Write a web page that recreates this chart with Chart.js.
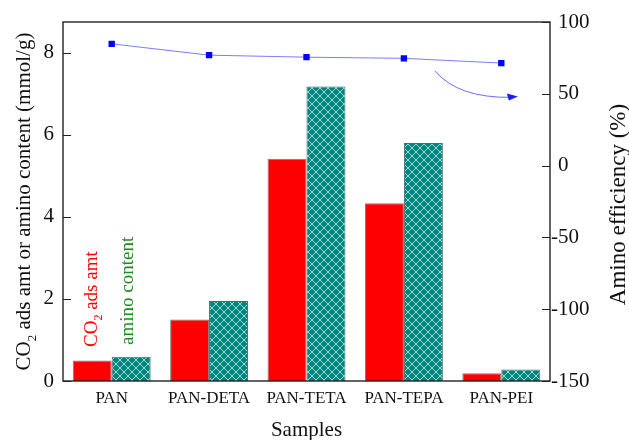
<!DOCTYPE html>
<html>
<head>
<meta charset="utf-8">
<script src="https://cdn.jsdelivr.net/npm/chart.js@4/dist/chart.umd.min.js"></script>
<style>
  html, body { margin: 0; padding: 0; background: #fff; }
  #wrap { width: 629px; height: 440px; }
</style>
</head>
<body>
<div id="wrap"><canvas id="c" width="629" height="440"></canvas></div>
<script>
// Samples and measured values
const categories = ['PAN', 'PAN-DETA', 'PAN-TETA', 'PAN-TEPA', 'PAN-PEI'];
const co2Adsorbed = [0.50, 1.50, 5.42, 4.33, 0.19];      // mmol/g
const aminoContent = [0.59, 1.95, 7.18, 5.80, 0.28];     // mmol/g
const aminoEfficiency = [84.8, 76.9, 75.5, 74.7, 71.4];  // %

// Axis tick labels
const leftTicks = [0, 2, 4, 6, 8];
const rightTicks = [-150, -100, -50, 0, 50, 100];

// Curved arrow pointing to the efficiency line (category index, % value)
const arrowStart = [3.32, 66];
const arrowBend = [3.55, 47];
const arrowEnd = [4.17, 47.5];

const SERIF = '"Liberation Serif", "DejaVu Serif", serif';

function crossHatch() {
  const c = document.createElement('canvas');
  c.width = 8; c.height = 8;
  const g = c.getContext('2d');
  g.fillStyle = '#00857f';
  g.fillRect(0, 0, 8, 8);
  g.strokeStyle = 'rgba(185,232,226,0.85)';
  g.lineWidth = 1;
  g.beginPath();
  g.moveTo(0, 0); g.lineTo(8, 8);
  g.moveTo(8, 0); g.lineTo(0, 8);
  g.stroke();
  return g.createPattern(c, 'repeat');
}

function subText(ctx, parts, x, y, size) {
  // parts: [text, isSubscript]; draws left to right along the current x axis
  let cx = x;
  for (const [t, sub] of parts) {
    ctx.font = (sub ? Math.round(size * 0.62) : size) + 'px ' + SERIF;
    ctx.fillText(t, cx, y + (sub ? size * 0.28 : 0));
    cx += ctx.measureText(t).width;
  }
  return cx - x;
}
function measureParts(ctx, parts, size) {
  let w = 0;
  for (const [t, sub] of parts) {
    ctx.font = (sub ? Math.round(size * 0.62) : size) + 'px ' + SERIF;
    w += ctx.measureText(t).width;
  }
  return w;
}

const decorations = {
  id: 'decorations',
  afterDraw(chart) {
    const ctx = chart.ctx;
    const a = chart.chartArea;
    const yL = chart.scales.y, yR = chart.scales.y1, x = chart.scales.x;
    ctx.save();

    // frame
    ctx.strokeStyle = '#222';
    ctx.lineWidth = 1.4;
    ctx.strokeRect(a.left, a.top, a.right - a.left, a.bottom - a.top);

    // inward tick marks
    ctx.lineWidth = 1.2;
    ctx.beginPath();
    leftTicks.forEach(v => {
      const py = Math.round(yL.getPixelForValue(v)) + 0.5;
      ctx.moveTo(a.left, py); ctx.lineTo(a.left + 8, py);
    });
    rightTicks.forEach(v => {
      const py = Math.round(yR.getPixelForValue(v)) + 0.5;
      ctx.moveTo(a.right, py); ctx.lineTo(a.right - 8, py);
    });
    ctx.stroke();

    // tick labels
    ctx.fillStyle = '#111';
    ctx.font = '21px ' + SERIF;
    ctx.textBaseline = 'middle';
    ctx.textAlign = 'right';
    leftTicks.forEach(v => ctx.fillText(String(v), a.left - 9, yL.getPixelForValue(v)));
    ctx.textAlign = 'left';
    const minusW = ctx.measureText('-').width;
    rightTicks.forEach(v => {
      const px = a.right + 8 - (v < 0 ? minusW : 0);
      ctx.fillText(String(v), px, yR.getPixelForValue(v));
    });

    // bottom title
    ctx.textAlign = 'center';
    ctx.textBaseline = 'alphabetic';
    ctx.font = '21px ' + SERIF;
    ctx.fillText('Samples', (a.left + a.right) / 2, 436);

    // left title with subscript
    const leftParts = [['CO', false], ['2', true], [' ads amt or amino content (mmol/g)', false]];
    ctx.save();
    ctx.translate(30, (a.top + a.bottom) / 2);
    ctx.rotate(-Math.PI / 2);
    ctx.textAlign = 'left';
    const lw = measureParts(ctx, leftParts, 21);
    subText(ctx, leftParts, -lw / 2, 0, 21);
    ctx.restore();

    // right title
    ctx.save();
    ctx.translate(625, (a.top + a.bottom) / 2 + 3);
    ctx.rotate(-Math.PI / 2);
    ctx.textAlign = 'center';
    ctx.font = '23px ' + SERIF;
    ctx.fillText('Amino efficiency (%)', 0, 0);
    ctx.restore();

    // in-plot series labels
    ctx.save();
    ctx.translate(97, 347);
    ctx.rotate(-Math.PI / 2);
    ctx.textAlign = 'left';
    ctx.fillStyle = '#ff0000';
    subText(ctx, [['CO', false], ['2', true], [' ads amt', false]], 0, 0, 19);
    ctx.restore();

    ctx.save();
    ctx.translate(133, 345);
    ctx.rotate(-Math.PI / 2);
    ctx.textAlign = 'left';
    ctx.fillStyle = '#228b22';
    ctx.font = '19px ' + SERIF;
    ctx.fillText('amino content', 0, 0);
    ctx.restore();

    // curved arrow
    const p0 = [x.getPixelForValue(arrowStart[0]), yR.getPixelForValue(arrowStart[1])];
    const p1 = [x.getPixelForValue(arrowBend[0]), yR.getPixelForValue(arrowBend[1])];
    const p2 = [x.getPixelForValue(arrowEnd[0]), yR.getPixelForValue(arrowEnd[1])];
    ctx.strokeStyle = 'rgba(70,70,255,0.8)';
    ctx.lineWidth = 1;
    ctx.beginPath();
    ctx.moveTo(p0[0], p0[1]);
    ctx.quadraticCurveTo(p1[0], p1[1], p2[0] - 6, p2[1]);
    ctx.stroke();
    ctx.fillStyle = '#1a1aff';
    ctx.beginPath();
    ctx.moveTo(p2[0], p2[1] - 1);
    ctx.lineTo(p2[0] - 11, p2[1] - 4);
    ctx.lineTo(p2[0] - 9, p2[1] + 3);
    ctx.closePath();
    ctx.fill();

    ctx.restore();
  }
};

new Chart(document.getElementById('c'), {
  type: 'bar',
  data: {
    labels: categories,
    datasets: [
      {
        type: 'line',
        data: aminoEfficiency,
        yAxisID: 'y1',
        order: 0,
        borderColor: 'rgba(80,80,255,0.75)',
        borderWidth: 1,
        pointStyle: 'rect',
        pointRadius: 4.5,
        pointBackgroundColor: '#0000ff',
        pointBorderColor: '#0000ff',
        pointBorderWidth: 0,
        tension: 0
      },
      {
        data: co2Adsorbed,
        yAxisID: 'y',
        order: 1,
        backgroundColor: '#ff0000',
        borderColor: '#7a7a7a',
        borderWidth: 1,
        categoryPercentage: 0.8,
        barPercentage: 1.0
      },
      {
        data: aminoContent,
        yAxisID: 'y',
        order: 1,
        backgroundColor: crossHatch(),
        borderColor: '#4a6b6a',
        borderWidth: 1,
        categoryPercentage: 0.8,
        barPercentage: 1.0
      }
    ]
  },
  options: {
    responsive: false,
    devicePixelRatio: 1,
    animation: false,
    layout: { padding: { top: 22, left: 0, right: 0, bottom: 0 } },
    plugins: { legend: { display: false }, tooltip: { enabled: false } },
    scales: {
      x: {
        grid: { display: false, drawTicks: false },
        border: { display: false },
        ticks: { color: '#111', font: { family: SERIF, size: 17 }, padding: 7, maxRotation: 0 },
        afterFit(s) { s.height = 59; }
      },
      y: {
        position: 'left',
        min: 0, max: 8.75,
        grid: { display: false, drawTicks: false },
        border: { display: false },
        ticks: { display: false, stepSize: 2 },
        afterFit(s) { s.width = 63; }
      },
      y1: {
        position: 'right',
        min: -150, max: 100,
        grid: { display: false, drawTicks: false },
        border: { display: false },
        ticks: { display: false, stepSize: 50 },
        afterFit(s) { s.width = 79; }
      }
    }
  },
  plugins: [decorations]
});
</script>
</body>
</html>
